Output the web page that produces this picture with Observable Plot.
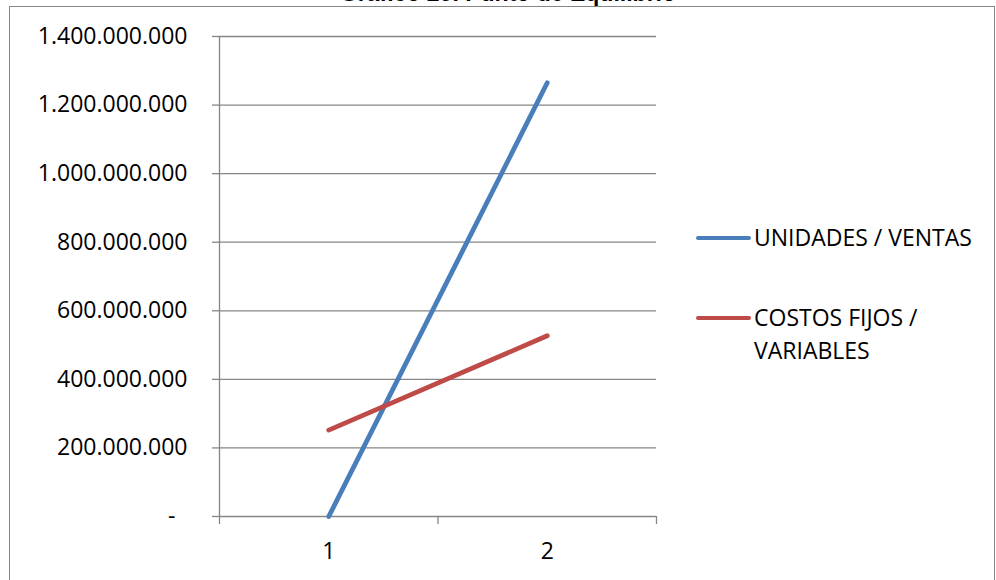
<!DOCTYPE html>
<html>
<head>
<meta charset="utf-8">
<script src="https://cdn.jsdelivr.net/npm/d3@7"></script>
<script src="https://cdn.jsdelivr.net/npm/@observablehq/plot@0.6"></script>
<style>
  html, body { margin: 0; padding: 0; background: #fff; overflow: hidden; }
  #wrap { position: relative; width: 996px; height: 580px; overflow: hidden; font-family: "Open Sans", sans-serif; }
  #frame { position: absolute; left: 9px; top: 6px; width: 986px; height: 620px; border: 1.5px solid #868686; box-sizing: border-box; }
  #title { position: absolute; left: 10px; width: 996px; top: -20px; line-height: 26px; text-align: center; font-family: "Liberation Sans", Arial, sans-serif; font-weight: bold; font-size: 23px; color: #000; }
  #chart { position: absolute; left: 0; top: 0; }
  .leg { position: absolute; font-size: 23px; line-height: 33px; color: #000; }
  .sw { position: absolute; height: 4.5px; border-radius: 3px; }
</style>
</head>
<body>
<div id="wrap">
  <div id="frame"></div>
  <div id="chart"></div>
  <div id="title">Gráfico 29. Punto de Equilibrio</div>
</div>
<script>
const categories = [1, 2];
const ventas = [0, 1265000000];
const costos = [252000000, 527000000];
const seriesNames = ["UNIDADES / VENTAS", "COSTOS FIJOS / VARIABLES"];
const legendLines = [["UNIDADES / VENTAS"], ["COSTOS FIJOS /", "VARIABLES"]];
const seriesColors = ["#4A7EBB", "#BE4B48"];
const yTicks = [0, 200000000, 400000000, 600000000, 800000000, 1000000000, 1200000000, 1400000000];
const xBoundaries = [0.5, 1.5, 2.5];

const data = [];
categories.forEach((c, i) => {
  data.push({x: c, value: ventas[i], series: seriesNames[0]});
});
categories.forEach((c, i) => {
  data.push({x: c, value: costos[i], series: seriesNames[1]});
});

const fmt = d => d3.format(",")(d).replace(/,/g, ".");
const gridColor = "#868686";
const font = "Open Sans";

const chart = Plot.plot({
  width: 996,
  height: 580,
  marginLeft: 219,
  marginRight: 340,
  marginTop: 36,
  marginBottom: 64,
  style: {background: "transparent", fontFamily: font},
  x: {type: "linear", domain: [0.5, 2.5], axis: null, label: null},
  y: {domain: [0, 1400000000], axis: null, label: null},
  color: {domain: seriesNames, range: seriesColors},
  marks: [
    Plot.ruleY(yTicks, {x1: xBoundaries[0], x2: xBoundaries[2], stroke: gridColor, strokeWidth: 1.3}),
    Plot.axisY({ticks: yTicks, tickSize: 7, tickFormat: () => "", label: null, stroke: gridColor, strokeWidth: 1.3}),
    Plot.ruleX([xBoundaries[0]], {y1: 0, y2: 1400000000, stroke: gridColor, strokeWidth: 1.3}),
    Plot.axisX({ticks: xBoundaries, tickSize: 8, tickFormat: () => "", label: null, stroke: gridColor, strokeWidth: 1.3}),
    Plot.axisX({ticks: categories, tickSize: 0, tickPadding: 26, tickFormat: d3.format("d"), label: null, fontSize: 23, fill: "#000", fontFamily: font}),
    Plot.text(yTicks.filter(d => d > 0), {x: xBoundaries[0], y: d => d, text: fmt, textAnchor: "end", dx: -32, fontSize: 23, fill: "#000", fontFamily: font}),
    Plot.text(yTicks.filter(d => d === 0), {x: xBoundaries[0], y: d => d, text: () => "-", textAnchor: "end", dx: -44, fontSize: 23, fill: "#000", fontFamily: font}),
    Plot.line(data, {x: "x", y: "value", z: "series", stroke: "series", strokeWidth: 4.8, strokeLinecap: "round"})
  ]
});
document.getElementById("chart").appendChild(chart);

const wrap = document.getElementById("wrap");
const legTops = [238, 318];
legendLines.forEach((lines, i) => {
  const sw = document.createElement("div");
  sw.className = "sw";
  sw.style.left = "696px";
  sw.style.width = "55px";
  sw.style.top = (legTops[i] - 2.25) + "px";
  sw.style.background = seriesColors[i];
  wrap.appendChild(sw);
  const t = document.createElement("div");
  t.className = "leg";
  t.style.left = "754px";
  t.style.top = (legTops[i] - 17) + "px";
  t.innerHTML = lines.join("<br>");
  wrap.appendChild(t);
});
</script>
</body>
</html>
